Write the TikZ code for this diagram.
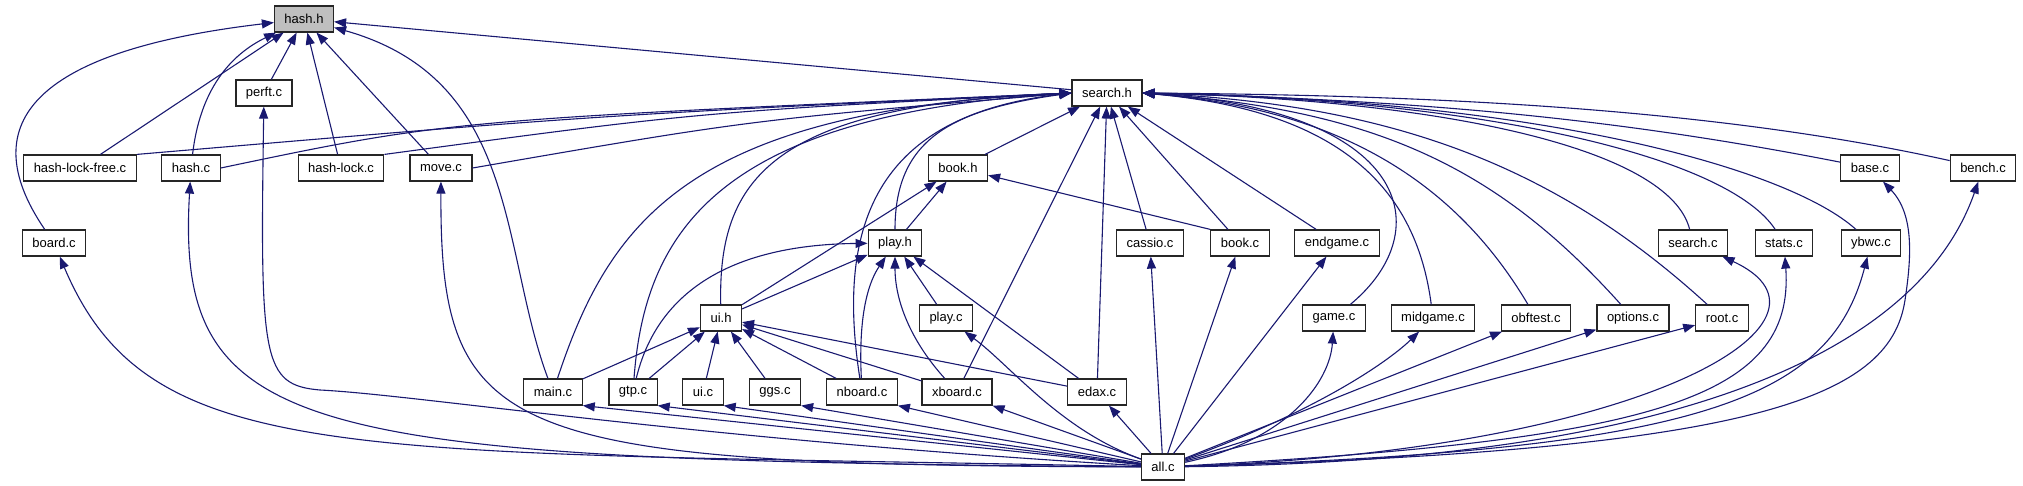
\documentclass[tikz,border=0pt]{standalone}
\usepackage{fontspec}
\setmainfont{Liberation Sans}
\usetikzlibrary{arrows.meta}
\definecolor{edgeblue}{HTML}{191970}
\begin{document}
\begin{tikzpicture}[x=1pt,y=-1pt,
    file/.style={draw=black!85,line width=1.2pt,fill=white,minimum height=26pt,inner xsep=10pt,inner ysep=0pt,font=\fontsize{13}{15}\selectfont},
    edge/.style={draw=edgeblue,line width=1.1pt,-{Triangle[length=12pt,width=9pt]}}]
  \useasboundingbox (0,0) rectangle (2023,485);
  \node[file,fill=black!25] (hashh) at (304,19) {hash.h};
  \foreach \n/\x/\y/\lbl in {searchh/1107/93/search.h, perftc/264/93/perft.c,
      hlf/80/168/hash-lock-free.c, hashc/191/168/hash.c, hlock/341/168/hash-lock.c, movec/441/168/move.c,
      bookh/958/168/book.h, basec/1870/168/base.c, benchc/1983/168/bench.c,
      boardc/54/243/board.c, playh/895/243/play.h, cassio/1150/243/cassio.c, bookc/1240/243/book.c,
      endgame/1337/243/endgame.c, searchc/1693/243/search.c, statsc/1784/243/stats.c, ybwc/1871/243/ybwc.c,
      uih/721/318/ui.h, playc/946/318/play.c, gamec/1334/318/game.c, midgame/1433/318/midgame.c,
      obftest/1536/318/obftest.c, options/1633/318/options.c, rootc/1722/318/root.c,
      mainc/553/392/main.c, gtpc/633/392/gtp.c, uic/703/392/ui.c, ggsc/775/392/ggs.c,
      nboard/862/392/nboard.c, xboard/957/392/xboard.c, edax/1097/392/edax.c, allc/1163/467/all.c}
    \node[file] (\n) at (\x,\y) {\lbl};
  % straight includes
  \foreach \s/\d in {hlf/hashh,perftc/hashh,hlock/hashh,movec/hashh,searchh/hashh,
      bookh/searchh,xboard/searchh,edax/searchh,cassio/searchh,bookc/searchh,endgame/searchh,
      uih/bookh,playh/bookh,bookc.north west/bookh,uih/playh,playc/playh,edax/playh,
      mainc/uih,gtpc/uih,uic/uih,ggsc/uih,nboard/uih,xboard/uih,edax/uih,
      allc/edax,allc/cassio,allc/bookc,allc/endgame,allc/obftest,allc/options,allc/rootc}
    \draw[edge] (\s) -- (\d);
  \foreach \d in {mainc,gtpc,uic,ggsc,nboard,xboard}
    \draw[edge] (allc) -- (\d.south east);
  % into hash.h
  \draw[edge] (boardc) .. controls (-30,120) and (40,50) .. (hashh);
  \draw[edge] (hashc) .. controls (200,90) and (230,55) .. (hashh);
  \draw[edge] (mainc) .. controls (500,250) and (520,80) .. (hashh);
  % into search.h
  \foreach \s/\cx/\cy in {hlf.north east/600/115,hashc.east/450/120,hlock.north east/700/112,movec.east/750/120}
    \draw[edge] (\s) .. controls (\cx,\cy) .. (searchh.west);
  \foreach \s/\ax/\ay/\bx/\by in {mainc/610/220/690/110,gtpc/645/230/720/115,uih/718/180/770/105,
      nboard/835/220/880/115,playh/895/140/950/110}
    \draw[edge] (\s) .. controls (\ax,\ay) and (\bx,\by) .. (searchh.west);
  \foreach \s/\ax/\ay/\bx/\by in {gamec/1440/230/1410/110,midgame/1415/180/1330/110,obftest/1460/190/1350/110,
      options/1500/170/1380/110,rootc/1560/170/1400/105,searchc/1670/150/1450/100,statsc/1730/160/1500/100,
      ybwc/1790/170/1550/100,basec/1600/115/1400/100,benchc/1700/105/1400/95}
    \draw[edge] (\s) .. controls (\ax,\ay) and (\bx,\by) .. (searchh.east);
  % into play.h
  \draw[edge] (nboard) .. controls (858,310) and (870,280) .. (playh);
  \draw[edge] (xboard) .. controls (910,340) and (895,300) .. (playh);
  \draw[edge] (gtpc) .. controls (655,300) and (720,245) .. (playh);
  % from all.c
  \draw[edge] (allc) .. controls (350,450) and (150,470) .. (boardc);
  \draw[edge] (allc) .. controls (300,460) and (175,440) .. (hashc);
  \draw[edge] (allc) .. controls (700,440) and (420,395) .. (320,390) .. controls (262,385) and (260,360) .. (perftc);
  \draw[edge] (allc) .. controls (500,465) and (440,440) .. (movec);
  \draw[edge] (allc) .. controls (1060,430) and (1010,365) .. (playc);
  \draw[edge] (allc) .. controls (1290,440) and (1330,380) .. (gamec);
  \draw[edge] (allc) .. controls (1320,410) and (1390,360) .. (midgame);
  \draw[edge] (allc) .. controls (1650,450) and (1860,320) .. (searchc);
  \draw[edge] (allc) .. controls (1650,440) and (1795,400) .. (statsc);
  \draw[edge] (allc) .. controls (1700,450) and (1830,400) .. (ybwc);
  \draw[edge] (allc) .. controls (1750,450) and (1890,400) .. (1905,300) .. controls (1911,260) and (1915,215) .. (basec);
  \draw[edge] (allc) .. controls (1750,460) and (1930,320) .. (benchc);
\end{tikzpicture}
\end{document}
